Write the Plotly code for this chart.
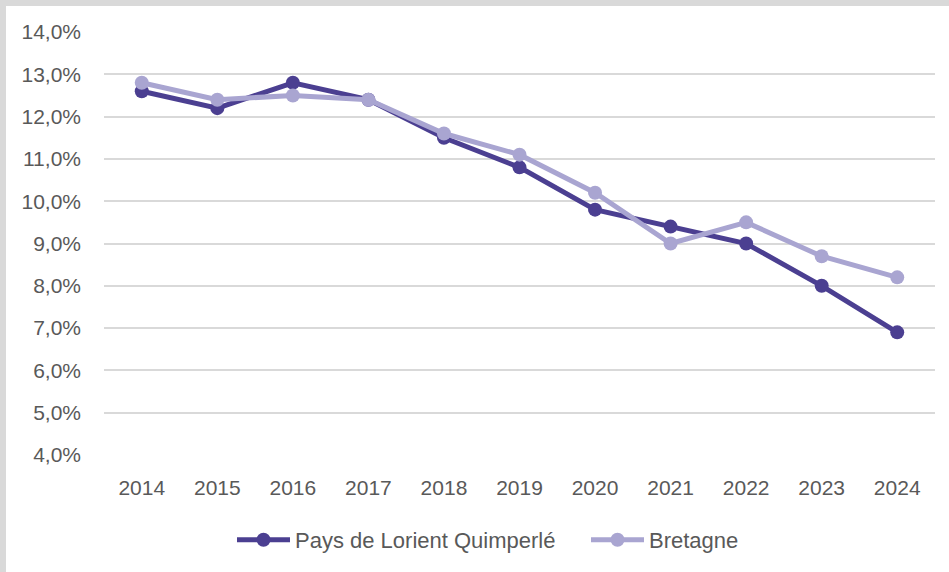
import plotly.graph_objects as go

years = ["2014", "2015", "2016", "2017", "2018", "2019", "2020", "2021", "2022", "2023", "2024"]
pays_lorient = [12.6, 12.2, 12.8, 12.4, 11.5, 10.8, 9.8, 9.4, 9.0, 8.0, 6.9]
bretagne = [12.8, 12.4, 12.5, 12.4, 11.6, 11.1, 10.2, 9.0, 9.5, 8.7, 8.2]
y_ticks = [4, 5, 6, 7, 8, 9, 10, 11, 12, 13, 14]
y_tick_labels = ["4,0%", "5,0%", "6,0%", "7,0%", "8,0%", "9,0%", "10,0%", "11,0%", "12,0%", "13,0%", "14,0%"]

W, H = 949, 572
ML, MR, MT, MB = 104, 14, 32, 117
PW, PH = W - ML - MR, H - MT - MB

dark = "#4B3F91"
light = "#A9A5D1"
txt = "#595959"
font_family = "Liberation Sans, Arial, sans-serif"

fig = go.Figure()
fig.add_trace(go.Scatter(
    x=years, y=pays_lorient, name="Pays de Lorient Quimperlé",
    mode="lines+markers",
    line=dict(color=dark, width=5),
    marker=dict(color=dark, size=14),
))
fig.add_trace(go.Scatter(
    x=years, y=bretagne, name="Bretagne",
    mode="lines+markers",
    line=dict(color=light, width=5),
    marker=dict(color=light, size=14),
))

def px_x(p):
    return (p - ML) / PW

def px_y(p):
    return (H - MB - p) / PH

shapes = [
    dict(type="rect", xref="paper", yref="paper", x0=px_x(0), x1=px_x(6), y0=px_y(H), y1=px_y(0),
         fillcolor="#D9D9D9", line=dict(width=0), layer="below"),
    dict(type="rect", xref="paper", yref="paper", x0=px_x(0), x1=px_x(W), y0=px_y(6), y1=px_y(0),
         fillcolor="#D9D9D9", line=dict(width=0), layer="below"),
]

fig.update_layout(
    width=W, height=H,
    margin=dict(l=ML, r=MR, t=MT, b=MB, autoexpand=False),
    paper_bgcolor="white", plot_bgcolor="white",
    font=dict(family=font_family, size=21, color=txt),
    showlegend=True,
    legend=dict(
        orientation="h", x=px_x(232), xanchor="left", y=px_y(540), yanchor="middle",
        font=dict(family=font_family, size=22, color=txt),
        itemwidth=53, entrywidth=286, entrywidthmode="pixels",
    ),
    shapes=shapes,
    xaxis=dict(
        type="category", range=[-0.5, len(years) - 0.5],
        showgrid=False, zeroline=False, showline=False,
        tickfont=dict(family=font_family, size=21, color=txt),
        ticks="", ticklabelstandoff=18, automargin=False,
    ),
    yaxis=dict(
        range=[4, 14], tickvals=y_ticks, ticktext=y_tick_labels,
        showgrid=True, gridcolor="#D9D9D9", gridwidth=2,
        zeroline=False, showline=False, ticks="", ticklabelstandoff=22, automargin=False,
        tickfont=dict(family=font_family, size=21, color=txt),
    ),
)

fig.write_html(
    "out.html",
    config={"displayModeBar": False},
    post_script="document.body.style.margin='0';document.body.style.padding='0';",
)
